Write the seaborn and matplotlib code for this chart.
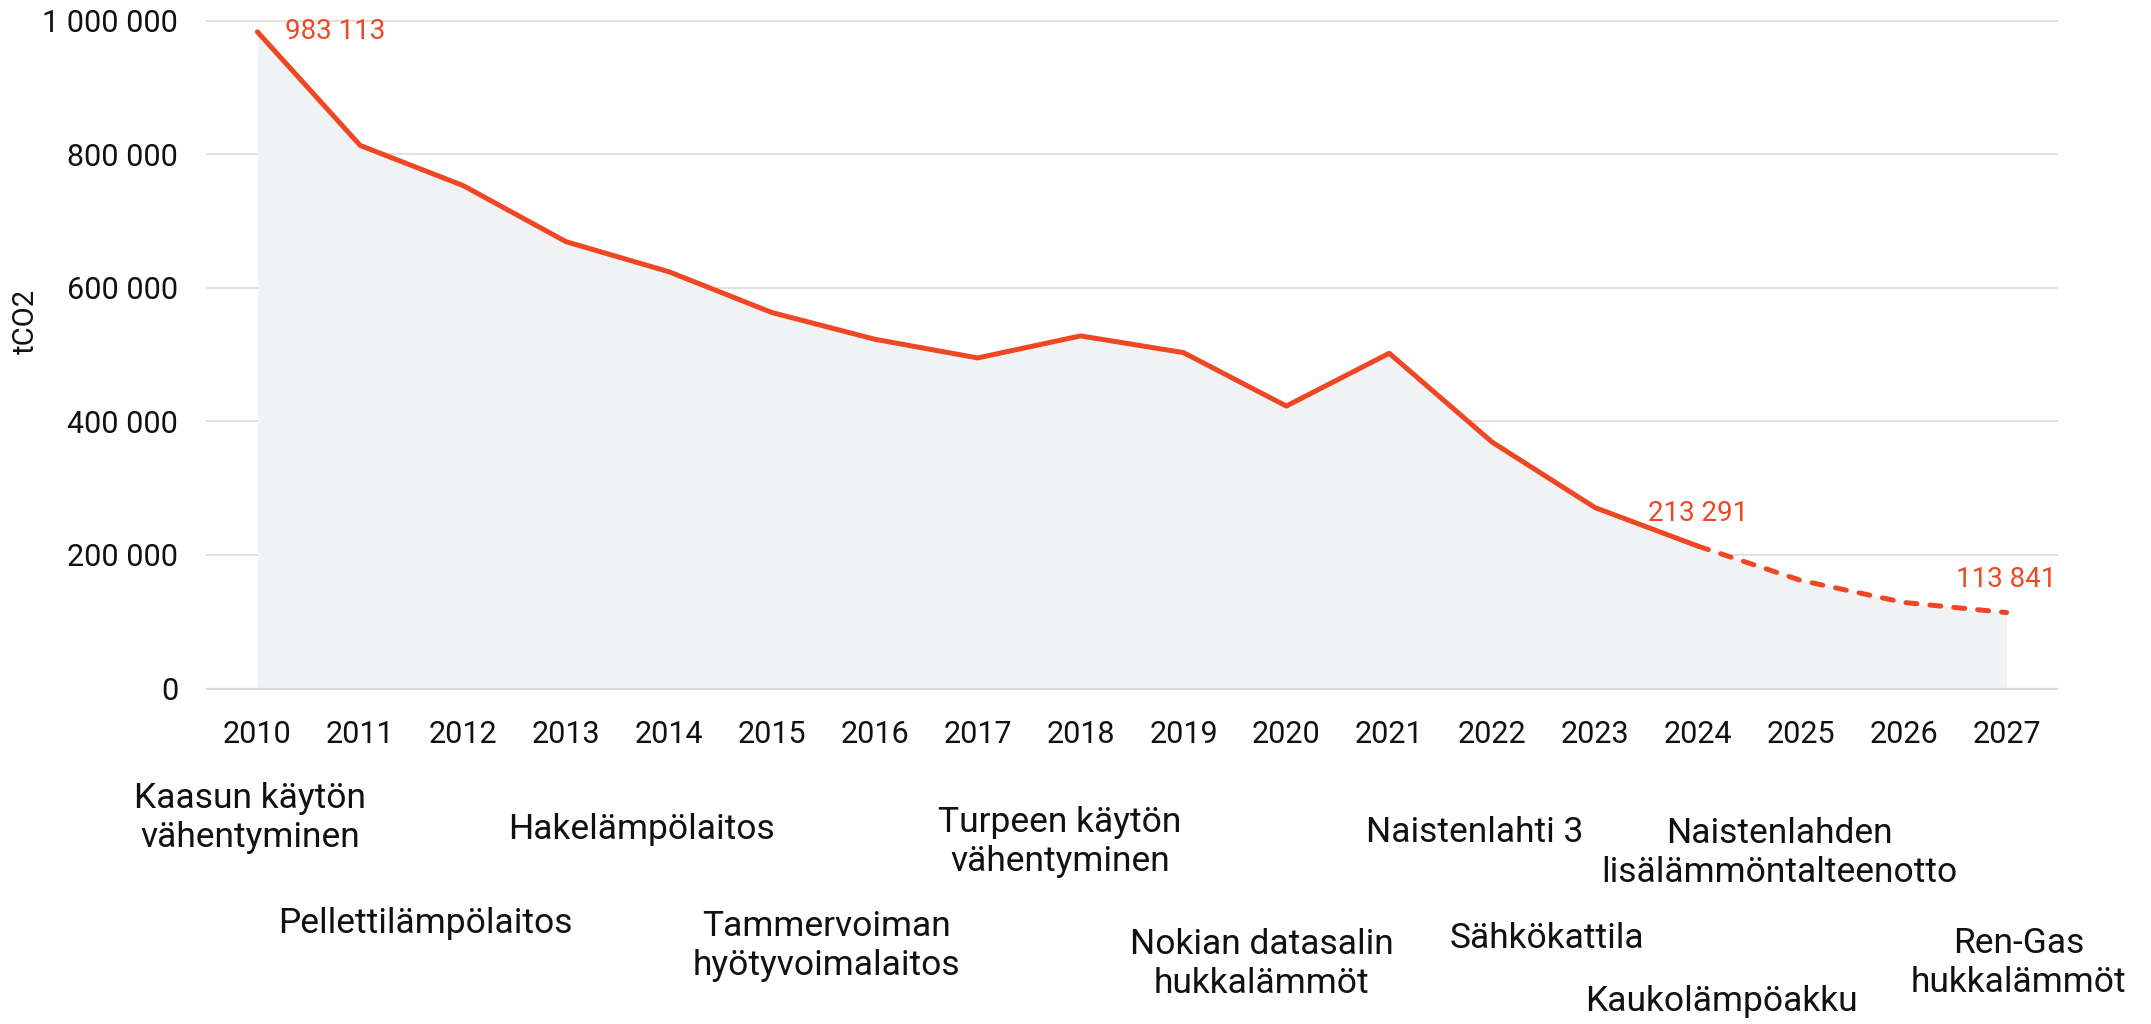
import matplotlib
matplotlib.use("Agg")
import matplotlib.pyplot as plt
import matplotlib.transforms as mtransforms
import seaborn as sns
import pandas as pd

years = [2010, 2011, 2012, 2013, 2014, 2015, 2016, 2017, 2018,
         2019, 2020, 2021, 2022, 2023, 2024, 2025, 2026, 2027]
emissions = [983113, 813000, 753000, 669000, 624000, 563000, 523000, 495000, 528000,
             503000, 423000, 502000, 369000, 271000, 213291, 162000, 129000, 113841]
forecast_start = 2024

yticks = [0, 200000, 400000, 600000, 800000, 1000000]
ytick_labels = ["0", "200 000", "400 000", "600 000", "800 000", "1 000 000"]
ylabel = "tCO2"

labelled_years = [2010, 2024, 2027]

measures = ["Kaasun käytön\nvähentyminen", "Pellettilämpölaitos", "Hakelämpölaitos",
            "Tammervoiman\nhyötyvoimalaitos", "Turpeen käytön\nvähentyminen",
            "Nokian datasalin\nhukkalämmöt", "Naistenlahti 3", "Naistenlahden\nlisälämmöntalteenotto",
            "Sähkökattila", "Kaukolämpöakku", "Ren-Gas\nhukkalämmöt"]
measure_x = [2009.93, 2011.63, 2013.73, 2015.53, 2017.8, 2019.76, 2021.83, 2024.79,
             2022.53, 2024.23, 2027.12]
measure_ypx = [818, 923, 829, 946, 842, 964, 833, 853, 938, 1001, 963]

RED = "#EF4623"
GRID = "#d9d9d9"

sns.set_theme(style="white")
plt.rcParams["font.family"] = ["Roboto", "DejaVu Sans"]

df = pd.DataFrame({"year": years, "tco2": emissions})
hist = df[df["year"] <= forecast_start]
fcst = df[df["year"] >= forecast_start]

W, H = 2151, 1024
fig = plt.figure(figsize=(W / 100, H / 100), dpi=100)
pad = 3000
y0px, y1px = 688.6, 20.6
ppu = (y0px - y1px) / 1e6
ax = fig.add_axes([206 / W, (H - y0px - pad * ppu) / H, (2058 - 206) / W,
                   ((y0px - y1px) + 2 * pad * ppu) / H])

ax.fill_between(df["year"], df["tco2"], color="#f1f2f4", lw=0, zorder=1)
ax.axhline(0, color=GRID, lw=1.6, zorder=2)
sns.lineplot(data=hist, x="year", y="tco2", ax=ax, color=RED, lw=3.6,
             solid_capstyle="round", zorder=3)
sns.lineplot(data=fcst, x="year", y="tco2", ax=ax, color=RED, lw=3.6,
             dashes=False, zorder=3)
ln = ax.lines[-1]
ln.set_dashes((2.2, 2.6))
ln.set_dash_capstyle("round")

ax.set_xlim(2009.5, 2027.5)
ax.set_ylim(-pad, 1e6 + pad)
ax.set_yticks(yticks)
ax.set_yticklabels(ytick_labels)
ax.set_xticks(years)
ax.set_xticklabels([str(y) for y in years])
ax.yaxis.grid(True, color=GRID, lw=1.1)
ax.xaxis.grid(False)
ax.set_axisbelow(True)
for s in ax.spines.values():
    s.set_visible(False)
ax.tick_params(axis="y", length=0, pad=20, labelsize=22, labelcolor="#111111")
ax.tick_params(axis="x", length=0, pad=21, labelsize=22, labelcolor="#111111")
ax.set_xlabel("")
ax.set_ylabel("")
fig.text(26 / W, 1 - 321 / H, ylabel, rotation=90, ha="center", va="center",
         fontsize=21, color="#111111")

for yr in labelled_years:
    v = emissions[years.index(yr)]
    txt = f"{v:,.0f}".replace(",", " ")
    if yr == years[0]:
        ax.annotate(txt, (yr, v), xytext=(20, 0), textcoords="offset points",
                    ha="left", va="center", fontsize=20, color=RED)
    else:
        ax.annotate(txt, (yr, v), xytext=(0, 14), textcoords="offset points",
                    ha="center", va="bottom", fontsize=20, color=RED)

trans = mtransforms.blended_transform_factory(ax.transData, fig.transFigure)
for lab, x, ypx in zip(measures, measure_x, measure_ypx):
    ax.text(x, 1 - ypx / H, lab, transform=trans, ha="center", va="center",
            fontsize=25.5, color="#111111", linespacing=1.25, clip_on=False)

fig.savefig("out.png", dpi=100)
